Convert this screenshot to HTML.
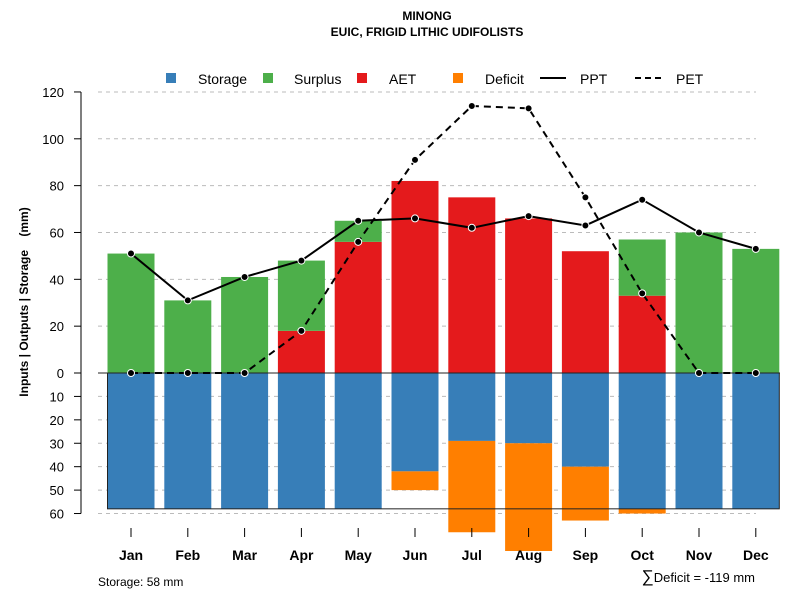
<!DOCTYPE html>
<html><head><meta charset="utf-8"><style>
body{margin:0;background:#fff}
svg text{font-family:"Liberation Sans",Arial,sans-serif}
</style></head><body>
<svg id="chart" width="800" height="600" xmlns="http://www.w3.org/2000/svg">
<text x="427" y="20" text-anchor="middle" font-size="12" font-weight="bold">MINONG</text>
<text x="427" y="36" text-anchor="middle" font-size="12" font-weight="bold">EUIC, FRIGID LITHIC UDIFOLISTS</text>
<g id="grid"></g><g id="bars"></g><g id="lines"></g><g id="axes"></g>
<g font-size="14">
<rect x="166" y="73" width="10" height="10" fill="#377eb8"/><text x="198" y="84">Storage</text>
<rect x="263" y="73" width="10" height="10" fill="#4daf4a"/><text x="294" y="84">Surplus</text>
<rect x="357" y="73" width="10" height="10" fill="#e41a1c"/><text x="389" y="84">AET</text>
<rect x="453" y="73" width="10" height="10" fill="#ff7f00"/><text x="485" y="84">Deficit</text>
<line x1="540" y1="78" x2="566" y2="78" stroke="#000" stroke-width="2"/><text x="580" y="84">PPT</text>
<line x1="635" y1="78" x2="662" y2="78" stroke="#000" stroke-width="2" stroke-dasharray="6,4"/><text x="676" y="84">PET</text>
</g>
<text x="28" y="302" transform="rotate(-90 28 302)" text-anchor="middle" font-size="12" font-weight="bold">Inputs | Outputs | Storage&#160;&#160;&#160;&#160;(mm)</text>
<text x="98" y="586" font-size="12">Storage: 58 mm</text>
<text x="755" y="582" text-anchor="end" font-size="13"><tspan font-size="17">∑</tspan>Deficit = -119 mm</text>
</svg>
<script>
const months=["Jan","Feb","Mar","Apr","May","Jun","Jul","Aug","Sep","Oct","Nov","Dec"];
const storage=[58,58,58,58,58,42,29,30,40,58,58,58];
const deficit=[0,0,0,0,0,8,39,46,23,2,0,0];
const aet=[0,0,0,18,56,82,75,66,52,33,0,0];
const surplus=[51,31,41,30,9,0,0,0,0,24,60,53];
const ppt=[51,31,41,48,65,66,62,67,63,74,60,53];
const pet=[0,0,0,18,56,91,114,113,75,34,0,0];
const upTicks=[0,20,40,60,80,100,120];
const downTicks=[10,20,30,40,50,60];
const maxStorage=58;
const NS="http://www.w3.org/2000/svg";
const y0=373,k=2.342;
function yv(v){return y0-v*k;}
function xc(i){return 131+i*56.8;}
const bw=47;
function mk(t,a,p){const e=document.createElementNS(NS,t);for(const n in a)e.setAttribute(n,a[n]);document.getElementById(p).appendChild(e);return e;}
upTicks.concat(downTicks.map(d=>-d)).forEach(v=>{
 const g=mk("line",{x1:98,x2:756,y1:yv(v),y2:yv(v),stroke:"#bbb","stroke-dasharray":"4,4"},"grid");
 
 
});
months.forEach((m,i)=>{
 const x=xc(i)-bw/2;
 let r=mk("rect",{x:x,y:y0,width:bw,height:storage[i]*k,fill:"#377eb8"},"bars");
 
 
 if(deficit[i]>0){r=mk("rect",{x:x,y:yv(-storage[i]),width:bw,height:deficit[i]*k,fill:"#ff7f00"},"bars");
 
 }
 if(aet[i]>0){r=mk("rect",{x:x,y:yv(aet[i]),width:bw,height:aet[i]*k,fill:"#e41a1c"},"bars");
 
 }
 if(surplus[i]>0){r=mk("rect",{x:x,y:yv(aet[i]+surplus[i]),width:bw,height:surplus[i]*k,fill:"#4daf4a"},"bars");
 
 }
 const t=mk("line",{x1:xc(i),x2:xc(i),y1:528,y2:537,stroke:"#000"},"axes");
 
 
 const l=mk("text",{x:xc(i),y:560,"text-anchor":"middle","font-size":14,"font-weight":"bold"},"axes");
 l.textContent=m;
 
 
});
let o=mk("rect",{x:xc(0)-bw/2,y:y0,width:xc(11)+bw/2-(xc(0)-bw/2),height:maxStorage*k,fill:"none",stroke:"#222","stroke-width":1},"bars");


o=mk("line",{x1:98,x2:780,y1:y0,y2:y0,stroke:"#222"},"bars");


function series(arr,name,dash){
 const p=mk("polyline",{points:arr.map((v,i)=>xc(i)+","+yv(v)).join(" "),fill:"none",stroke:"#000","stroke-width":2,"stroke-dasharray":dash},"lines");
 
 
 arr.forEach((v,i)=>{const c=mk("circle",{cx:xc(i),cy:yv(v),r:3.5,fill:"#000",stroke:"#fff","stroke-width":1},"lines");
 
 });
}
series(ppt,"ppt","none");
series(pet,"pet","7,5");
let ax=mk("line",{x1:81,x2:81,y1:yv(120),y2:yv(-60),stroke:"#555","stroke-width":1.5},"axes");


upTicks.concat(downTicks.map(d=>-d)).forEach(v=>{
 const t=mk("line",{x1:74,x2:81,y1:yv(v),y2:yv(v),stroke:"#000"},"axes");
 
 
 const l=mk("text",{x:64,y:yv(v)+5,"text-anchor":"end","font-size":13},"axes");
 l.textContent=Math.abs(v);
 
 
});
</script>
</body></html>
